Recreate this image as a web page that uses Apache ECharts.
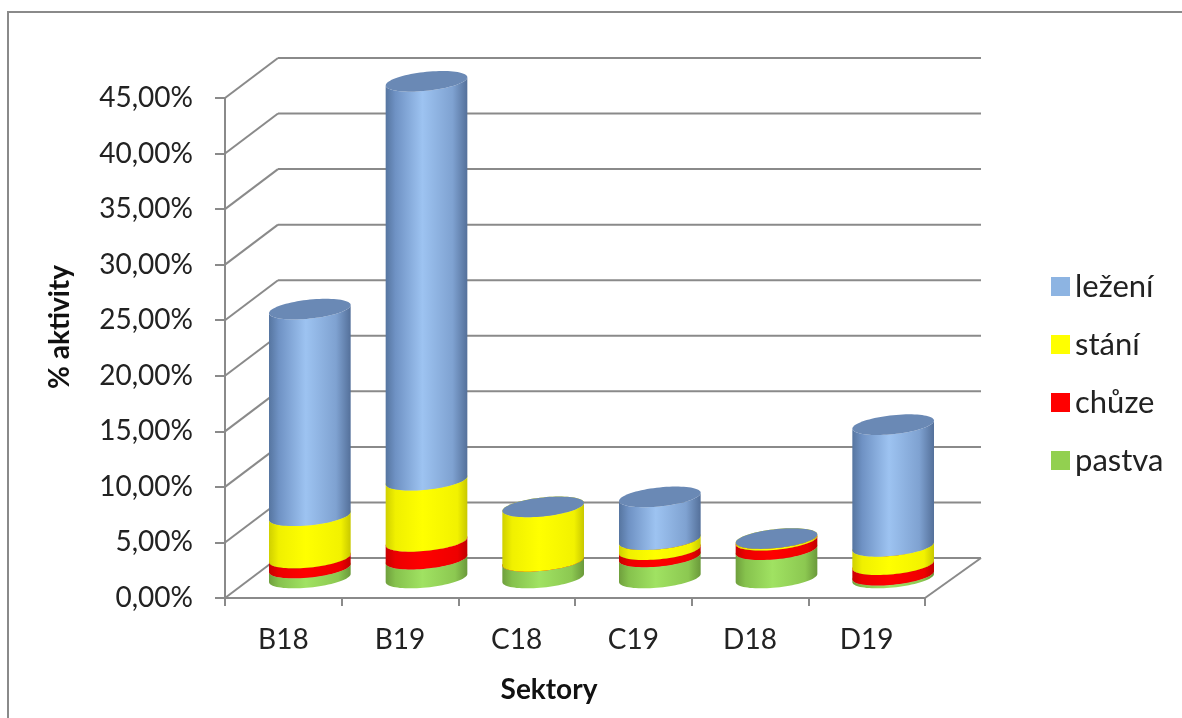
<!DOCTYPE html>
<html>
<head>
<meta charset="utf-8">
<script src="https://cdn.jsdelivr.net/npm/echarts@6/dist/echarts.min.js"></script>
<style>
  html, body { margin: 0; padding: 0; background: #fff; }
  #chart { width: 1182px; height: 718px; }
</style>
</head>
<body>
<div id="chart"></div>
<script>
// Sektory and the share of each activity (in %)
const categories = ['B18', 'B19', 'C18', 'C19', 'D18', 'D19'];
const pastva = [0.9, 1.7, 1.5, 1.9, 2.55, 0.25];
const chuze  = [0.9, 1.6, 0.0, 0.65, 0.85, 0.95];
const stani  = [3.8, 5.5, 4.9, 0.9, 0.15, 1.65];
const lezeni = [18.6, 35.9, 0.0, 3.85, 0.0, 10.95];
const yTicks = [0, 5, 10, 15, 20, 25, 30, 35, 40, 45];

// stacking order, bottom to top
const stackOrder = [pastva, chuze, stani, lezeni];
const seriesNames = ['pastva', 'chůze', 'stání', 'ležení'];
const legendOrder = ['ležení', 'stání', 'chůze', 'pastva'];

const FONT = 'Lato, "Open Sans", sans-serif';
const GRID_LINE = '#8a8a8a';
// oblique depth of the 3D box
const DX = 53, DY = -40;
// ellipse look of the cylinders
const RY = 9.5, SKEW = -0.1;

const palettes = [
  { flat: '#92d050', side: [[0, '#6f9f3d'], [0.12, '#86c24d'], [0.45, '#a0e262'], [0.85, '#8cc851'], [1, '#6a993a']], cap: '#7fb548' },
  { flat: '#ff0000', side: [[0, '#c80000'], [0.12, '#ec0000'], [0.45, '#ff0000'], [0.88, '#ee0000'], [1, '#c00000']], cap: '#d40000' },
  { flat: '#ffff00', side: [[0, '#d0d000'], [0.12, '#f0f000'], [0.45, '#ffff00'], [0.88, '#f2f200'], [1, '#c8c800']], cap: '#e2e200' },
  { flat: '#8db4e2', side: [[0, '#5675a0'], [0.12, '#6f92c4'], [0.45, '#9dc3f1'], [0.82, '#7fa2d1'], [1, '#54709a']], cap: '#6a89b5' }
];

function grad(stops) {
  return new echarts.graphic.LinearGradient(0, 0, 1, 0,
    stops.map(s => ({ offset: s[0], color: s[1] })));
}

function ellipsePts(cx, cy, rx, from, to, n) {
  const pts = [];
  for (let j = 0; j <= n; j++) {
    const t = from + (to - from) * j / n;
    const c = Math.cos(t);
    pts.push([cx + rx * c, cy + RY * Math.sin(t) + SKEW * rx * c]);
  }
  return pts;
}

function cylinderRenderer(level) {
  return function (params, api) {
    const i = params.dataIndex;
    let base = 0;
    for (let s = 0; s < level; s++) base += stackOrder[s][i];
    const top = base + stackOrder[level][i];
    const pB = api.coord([i, base]);
    const pT = api.coord([i, top]);
    const band = api.size([1, 0])[0];
    const rx = band * 0.35;
    const cx = pB[0] + DX / 2;
    const yb = pB[1] + DY / 2;
    const yt = pT[1] + DY / 2;
    const pal = palettes[level];
    // side: bottom front arc, then top front arc back
    const side = ellipsePts(cx, yb, rx, Math.PI, 0, 40)
      .concat(ellipsePts(cx, yt, rx, 0, Math.PI, 40));
    const cap = ellipsePts(cx, yt, rx, 0, Math.PI * 2, 80);
    return {
      type: 'group',
      children: [
        { type: 'polygon', shape: { points: side }, style: { fill: grad(pal.side) } },
        { type: 'polygon', shape: { points: cap }, style: { fill: pal.cap } }
      ]
    };
  };
}

function frameRenderer(params, api) {
  const v = api.value(0);
  const band = api.size([1, 0])[0];
  const pL = api.coord([0, v]);
  const pR = api.coord([categories.length - 1, v]);
  const xL = pL[0] - band / 2, xR = pR[0] + band / 2, y = pL[1];
  const style = { stroke: GRID_LINE, lineWidth: 2, fill: null };
  const kids = [
    { type: 'line', shape: { x1: xL, y1: y, x2: xL + DX, y2: y + DY }, style },
    { type: 'line', shape: { x1: xL + DX, y1: y + DY, x2: xR + DX + 3, y2: y + DY }, style }
  ];
  if (v === 0) {
    kids.push({ type: 'line', shape: { x1: xR, y1: y, x2: xR + DX + 3, y2: y + DY }, style });
  }
  return { type: 'group', children: kids };
}

const chart = echarts.init(document.getElementById('chart'), null, { renderer: 'canvas' });

const series = [{
  type: 'custom',
  name: 'frame',
  silent: true,
  renderItem: frameRenderer,
  data: yTicks.map(v => [v]),
  z: 1
}];
stackOrder.forEach((arr, level) => {
  series.push({
    type: 'custom',
    name: seriesNames[level],
    itemStyle: { color: palettes[level].flat },
    renderItem: cylinderRenderer(level),
    data: arr.map((v, i) => [i, v]),
    z: 3
  });
});

chart.setOption({
  animation: false,
  backgroundColor: '#ffffff',
  grid: { left: 225, right: 257, top: 98, bottom: 120 },
  xAxis: {
    type: 'category',
    data: categories,
    boundaryGap: true,
    axisLine: { lineStyle: { color: GRID_LINE, width: 2 } },
    axisTick: { show: true, length: 8, interval: 0, lineStyle: { color: GRID_LINE, width: 2 } },
    axisLabel: { interval: 0, margin: 28, color: '#222', fontFamily: FONT, fontSize: 28 },
    splitLine: { show: false }
  },
  yAxis: {
    type: 'value',
    min: 0, max: 45, interval: 5,
    axisLine: { show: true, lineStyle: { color: GRID_LINE, width: 2 } },
    axisTick: { show: true, length: 10, lineStyle: { color: GRID_LINE, width: 2 } },
    axisLabel: {
      margin: 32, color: '#222', fontFamily: FONT, fontSize: 28,
      formatter: v => v.toFixed(2).replace('.', ',') + '%'
    },
    splitLine: { show: false }
  },
  legend: {
    data: legendOrder,
    orient: 'vertical',
    left: 1046, top: 266,
    icon: 'rect',
    itemWidth: 19, itemHeight: 19,
    itemGap: 27,
    textStyle: { color: '#222', fontFamily: FONT, fontSize: 31, lineHeight: 31 }
  },
  graphic: [
    { type: 'rect', shape: { x: 8, y: 12, width: 1300, height: 800 },
      style: { fill: null, stroke: '#8a8a8a', lineWidth: 2 }, z: 0 },
    { type: 'text', x: 60, y: 327, rotation: Math.PI / 2,
      style: { text: '% aktivity', fill: '#111', font: 'bold 28px ' + FONT, textAlign: 'center', textVerticalAlign: 'middle' } },
    { type: 'text', x: 549, y: 690,
      style: { text: 'Sektory', fill: '#111', font: 'bold 28px ' + FONT, textAlign: 'center', textVerticalAlign: 'middle' } }
  ],
  series: series
});
</script>
</body>
</html>
